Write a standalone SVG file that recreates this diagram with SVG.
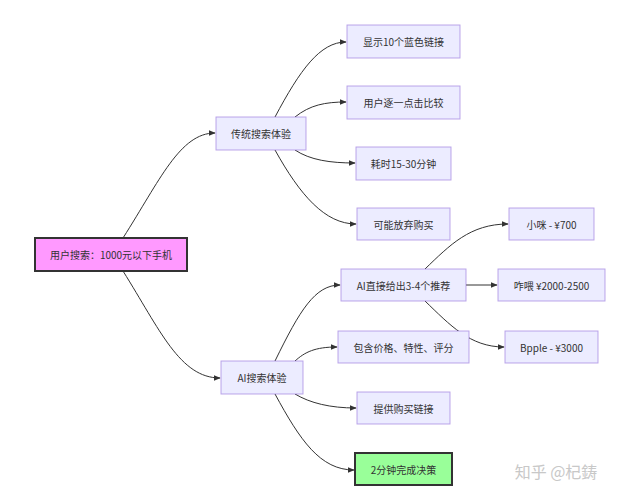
<svg xmlns="http://www.w3.org/2000/svg" width="620" height="500" viewBox="0 0 620 500">
<defs>
<marker id="ah" viewBox="0 0 10 10" refX="9" refY="5" markerWidth="7" markerHeight="7" orient="auto"><path d="M0,1 L10,5 L0,9 z" fill="#333"/></marker>
<style>
.n rect{fill:#ececff;stroke:#9370db;stroke-width:1;stroke-opacity:0.6}
.n text{font-family:"Noto Sans CJK SC","Liberation Sans",sans-serif;font-size:10px;fill:#333;text-anchor:middle;dominant-baseline:central}
#conn path{fill:none;stroke:#333;stroke-width:1;marker-end:url(#ah)}
</style>
</defs>
<rect width="620" height="500" fill="#fff"/>
<g id="conn">
<path d="M123,238 C160,180 180,133 215,133"/>
<path d="M123,271 C160,330 180,378 220,378"/>
<path d="M275,117 C300,70 320,42 346,42"/>
<path d="M295,117 C310,105 325,102 346,102"/>
<path d="M295,150 C310,160 330,163 355,163"/>
<path d="M275,150 C300,195 325,224 356,224"/>
<path d="M275,361 C300,310 315,285 340,285"/>
<path d="M295,361 C305,352 315,347 337,347"/>
<path d="M295,394 C310,403 330,408 356,408"/>
<path d="M275,394 C300,440 320,470 354,470"/>
<path d="M425,269 C450,245 470,224 508,224"/>
<path d="M466,285 L497,285"/>
<path d="M425,301 C450,325 470,347 504,347"/>
</g>
<g id="root" class="n"><rect x="35" y="238" width="152" height="33" style="fill:#f9f;stroke:#333;stroke-width:2;stroke-opacity:1"/><text x="111" y="254.5">用户搜索：1000元以下手机</text></g>
<g id="trad" class="n"><rect x="216" y="117" width="90" height="33"/><text x="261" y="133.5">传统搜索体验</text></g>
<g id="ai" class="n"><rect x="221" y="361" width="82" height="33"/><text x="262" y="377.5">AI搜索体验</text></g>
<g id="t1" class="n"><rect x="347" y="25" width="113" height="33"/><text x="403.5" y="41.5">显示10个蓝色链接</text></g>
<g id="t2" class="n"><rect x="347" y="86" width="113" height="33"/><text x="403.5" y="102.5">用户逐一点击比较</text></g>
<g id="t3" class="n"><rect x="356" y="147" width="95" height="33"/><text x="403.5" y="163.5">耗时15-30分钟</text></g>
<g id="t4" class="n"><rect x="357" y="208" width="93" height="32"/><text x="403.5" y="224">可能放弃购买</text></g>
<g id="a1" class="n"><rect x="341" y="269" width="125" height="32"/><text x="403.5" y="285">AI直接给出3-4个推荐</text></g>
<g id="a2" class="n"><rect x="338" y="331" width="131" height="32"/><text x="403.5" y="347">包含价格、特性、评分</text></g>
<g id="a3" class="n"><rect x="357" y="392" width="93" height="32"/><text x="403.5" y="408">提供购买链接</text></g>
<g id="a4" class="n"><rect x="355" y="453" width="97" height="32" style="fill:#9f9;stroke:#333;stroke-width:2;stroke-opacity:1"/><text x="403.5" y="469">2分钟完成决策</text></g>
<g id="r1" class="n"><rect x="509" y="208" width="85" height="32"/><text x="551.5" y="224">小咪 - ¥700</text></g>
<g id="r2" class="n"><rect x="498" y="269" width="107" height="32"/><text x="551.5" y="285">咋喂 ¥2000-2500</text></g>
<g id="r3" class="n"><rect x="505" y="331" width="93" height="32"/><text x="551.5" y="347">Bpple - ¥3000</text></g>
<text x="556" y="478" font-family="Noto Sans CJK SC,sans-serif" font-size="16" fill="#c8c8c8" text-anchor="middle">知乎 @杞鋳</text>
</svg>
